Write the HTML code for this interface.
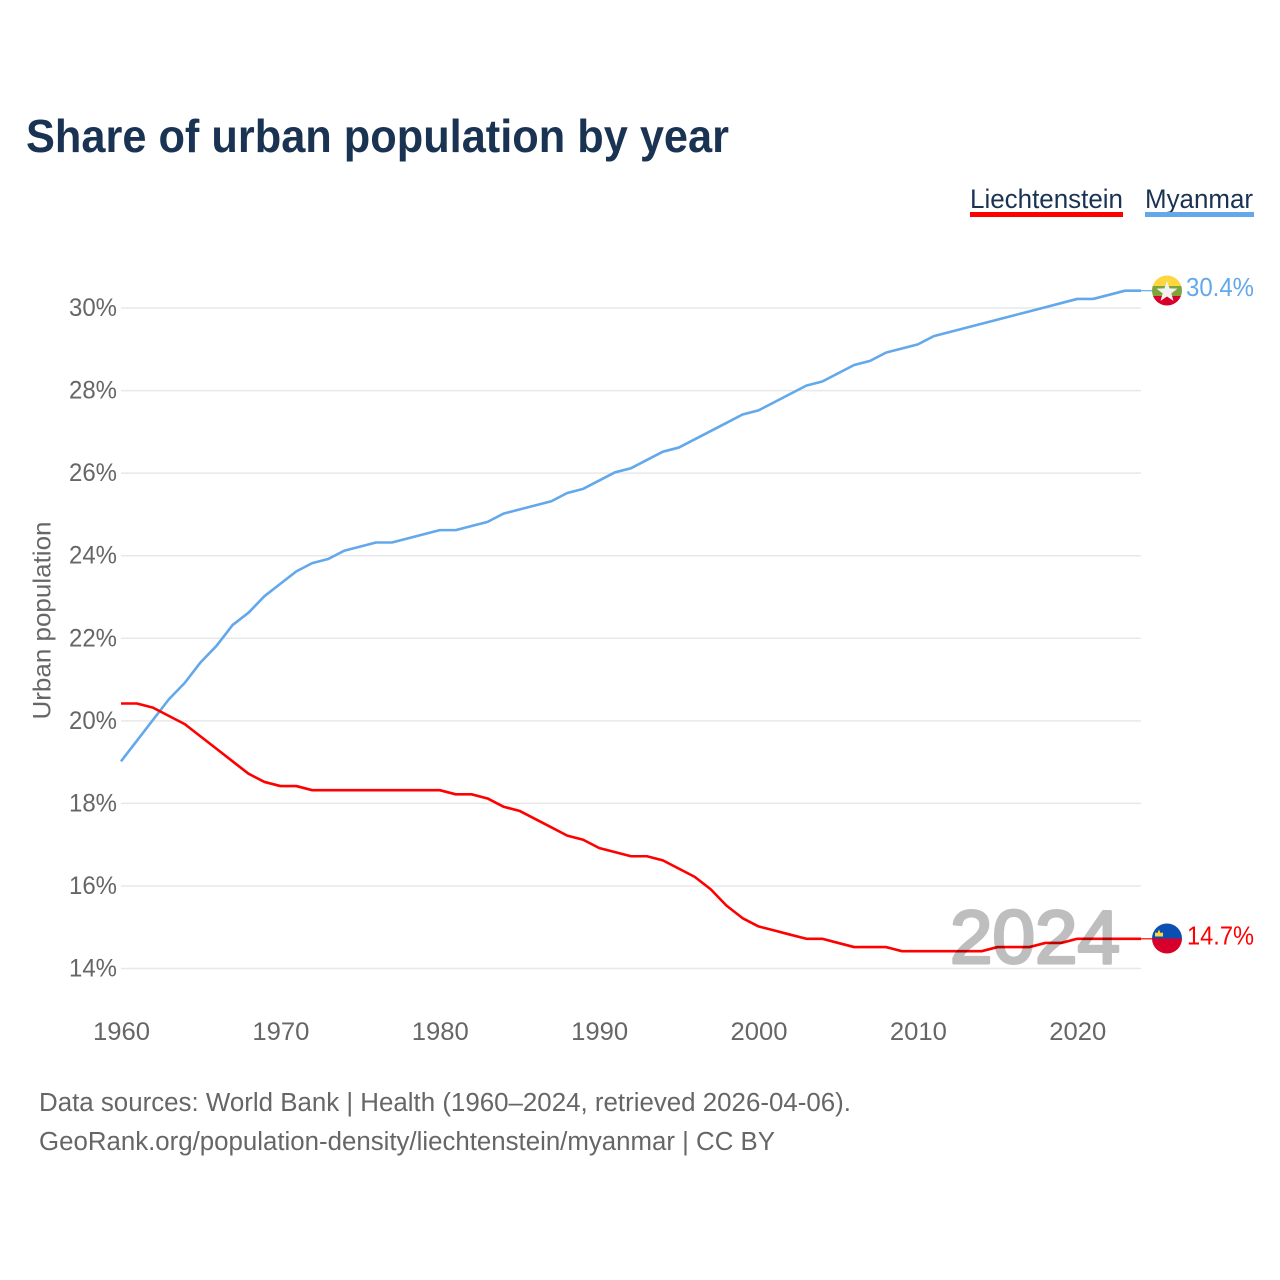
<!DOCTYPE html>
<html lang="en">
<head>
<meta charset="utf-8">
<title>Share of urban population by year</title>
<style>
html,body{margin:0;padding:0;background:#fff;width:1280px;height:1280px;overflow:hidden}
svg{display:block;font-family:"Liberation Sans",sans-serif}
</style>
</head>
<body>
<svg id="chart" width="1280" height="1280" viewBox="0 0 1280 1280" xmlns="http://www.w3.org/2000/svg">
  <rect width="1280" height="1280" fill="#fff"/>
  <text x="26" y="152" font-size="46" font-weight="700" fill="#1a3353" textLength="703" lengthAdjust="spacingAndGlyphs">Share of urban population by year</text>

  <g>
    <text x="970" y="208" font-size="26.500" fill="#1a3353" textLength="153" lengthAdjust="spacingAndGlyphs">Liechtenstein</text>
    <rect x="970" y="212" width="153" height="5" fill="#ff0000"/>
  </g>
  <g>
    <text x="1145" y="208" font-size="26.500" fill="#1a3353" textLength="108" lengthAdjust="spacingAndGlyphs">Myanmar</text>
    <rect x="1145" y="212" width="109" height="5" fill="#62a8ea"/>
  </g>

  <text transform="translate(50.500,719.500) rotate(-90)" font-size="25" fill="#666" textLength="198" lengthAdjust="spacingAndGlyphs">Urban population</text>

  <g id="grid"></g>
  <g id="yticks"></g>
  <g id="xticks"></g>
  <g id="series"></g>

  <text x="950" y="963" font-size="75" fill="#000" stroke="#000" stroke-width="3" stroke-linejoin="round" opacity="0.25" textLength="170" lengthAdjust="spacingAndGlyphs">2024</text>

  <defs>
    <clipPath id="clip-mm"><circle cx="1167" cy="290.500" r="15"/></clipPath>
    <clipPath id="clip-li"><circle cx="1167" cy="938.500" r="15"/></clipPath>
  </defs>
  <g clip-path="url(#clip-mm)">
    <rect x="1152" y="275" width="30" height="11" fill="#fed640"/>
    <rect x="1152" y="286" width="30" height="10" fill="#7da53c"/>
    <rect x="1152" y="296" width="30" height="10" fill="#d8002b"/>
    <polygon points="1167,281 1169.600,288.400 1177.500,288.600 1171.300,293.400 1173.500,300.900 1167,296.500 1160.500,300.900 1162.700,293.400 1156.500,288.600 1164.400,288.400" fill="#f2f2f2"/>
  </g>
  <g clip-path="url(#clip-li)">
    <rect x="1152" y="923" width="30" height="15.500" fill="#0b4fb0"/>
    <rect x="1152" y="938.500" width="30" height="16" fill="#d8002b"/>
    <path d="M1155 936.500v-4l2.500 0.500 1.500-3.500 1.500 3.500 2.500-0.500v4z" fill="#fed640"/>
  </g>
  <text x="1186" y="296" font-size="26" fill="#62a8ea" textLength="68" lengthAdjust="spacingAndGlyphs">30.4%</text>
  <text x="1187" y="944.500" font-size="26" fill="#ff0000" textLength="67" lengthAdjust="spacingAndGlyphs">14.7%</text>

  <text x="39" y="1111" font-size="25.500" fill="#666" textLength="812" lengthAdjust="spacingAndGlyphs">Data sources: World Bank | Health (1960–2024, retrieved 2026-04-06).</text>
  <text x="39" y="1150" font-size="25.500" fill="#666" textLength="736" lengthAdjust="spacingAndGlyphs">GeoRank.org/population-density/liechtenstein/myanmar | CC BY</text>
</svg>
<script>
const startYear = 1960;
const endYear = 2024;
const yTickValues = [14, 16, 18, 20, 22, 24, 26, 28, 30];
const xTickYears = [1960, 1970, 1980, 1990, 2000, 2010, 2020];
const myanmarValues = [19.0,19.5,20.0,20.5,20.9,21.4,21.8,22.3,22.6,23.0,23.3,23.6,23.8,23.9,24.1,24.2,24.3,24.3,24.4,24.5,24.6,24.6,24.7,24.8,25.0,25.1,25.2,25.3,25.5,25.6,25.8,26.0,26.1,26.3,26.5,26.6,26.8,27.0,27.2,27.4,27.5,27.7,27.9,28.1,28.2,28.4,28.6,28.7,28.9,29.0,29.1,29.3,29.4,29.5,29.6,29.7,29.8,29.9,30.0,30.1,30.2,30.2,30.3,30.4,30.4];
const liechtensteinValues = [20.4,20.4,20.3,20.1,19.9,19.6,19.3,19.0,18.7,18.5,18.4,18.4,18.3,18.3,18.3,18.3,18.3,18.3,18.3,18.3,18.3,18.2,18.2,18.1,17.9,17.8,17.6,17.4,17.2,17.1,16.9,16.8,16.7,16.7,16.6,16.4,16.2,15.9,15.5,15.2,15.0,14.9,14.8,14.7,14.7,14.6,14.5,14.5,14.5,14.4,14.4,14.4,14.4,14.4,14.4,14.5,14.5,14.5,14.6,14.6,14.7,14.7,14.7,14.7,14.7];

const NS = 'http://www.w3.org/2000/svg';
const plotLeft = 121, plotRight = 1141;
const lineOffset = -0.8;
function xScale(year) { return plotLeft + (year - startYear) * (plotRight - plotLeft) / (endYear - startYear); }
function yScale(v) { return 968.5 - (v - 14) * (968.5 - 308) / 16; }
function make(tag, attrs) {
  const el = document.createElementNS(NS, tag);
  for (const k in attrs) el.setAttribute(k, attrs[k]);
  return el;
}
const grid = document.getElementById('grid');
const yticks = document.getElementById('yticks');
const xticks = document.getElementById('xticks');
const series = document.getElementById('series');

yTickValues.forEach(function (v) {
  const line = make('line', {x1: plotLeft, x2: plotRight, y1: yScale(v), y2: yScale(v), stroke: '#e8e8e8', 'stroke-width': 1.5});
  
  
  grid.appendChild(line);
  const t = make('text', {x: 69, y: yScale(v) + 8, 'font-size': 25, fill: '#666', textLength: 48, lengthAdjust: 'spacingAndGlyphs'});
  
  
  t.textContent = v + '%';
  yticks.appendChild(t);
});

xTickYears.forEach(function (yr) {
  const t = make('text', {x: xScale(yr) - 28, y: 1040, 'font-size': 25, fill: '#666', textLength: 57, lengthAdjust: 'spacingAndGlyphs'});
  
  
  t.textContent = yr;
  xticks.appendChild(t);
});

function drawSeries(values, color, name) {
  const pts = values.map(function (v, i) { return xScale(startYear + i).toFixed(2) + ',' + (yScale(v) + lineOffset).toFixed(2); });
  const lastY = yScale(values[values.length - 1]) + lineOffset;
  const connector = make('line', {x1: plotRight, x2: 1153, y1: lastY, y2: lastY, stroke: color, 'stroke-width': 1.2});
  
  
  series.appendChild(connector);
  const line = make('polyline', {points: pts.join(' '), fill: 'none', stroke: color, 'stroke-width': 2.6, 'stroke-linejoin': 'round'});
  
  
  series.appendChild(line);
}
drawSeries(myanmarValues, '#62a8ea', 'myanmar');
drawSeries(liechtensteinValues, '#ff0000', 'liechtenstein');
</script>
</body>
</html>
